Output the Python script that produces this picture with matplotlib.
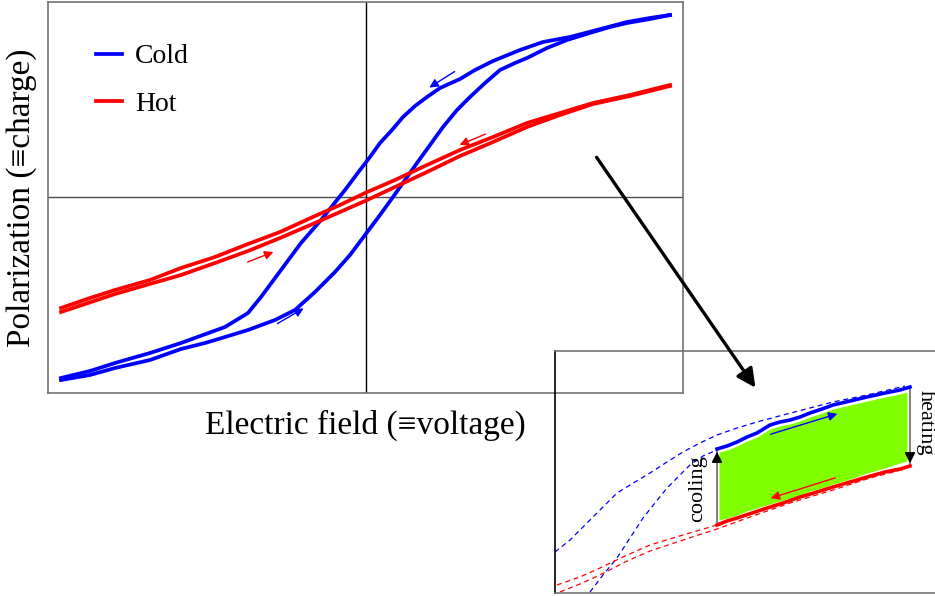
import matplotlib
matplotlib.use("Agg")
import matplotlib.pyplot as plt
from matplotlib.patches import FancyArrowPatch

plt.rcParams['font.family'] = ['Liberation Serif', 'DejaVu Serif']

# ---- main loop data (arbitrary units: field E, polarization P) ----
cold_up_E = [-305, -276, -251, -216, -185, -161, -141, -118, -91, -71, -51, -31, -16, -1, 14, 27,
             39, 51, 64, 77, 91, 104, 119, 134, 149, 161, 181, 201, 227, 244, 261, 284, 304]
cold_up_P = [-183, -178, -171, -163, -152, -146, -140, -133, -123, -113, -95, -75, -58, -38, -18, 0,
             17, 34, 52, 70, 87, 100, 114, 127, 134, 139, 149, 157, 165, 170, 174, 178, 182]
cold_down_E = [304, 284, 261, 227, 204, 177, 154, 127, 109, 94, 74, 61, 49, 37, 26, 14, 4, -6,
               -21, -33, -45, -65, -85, -105, -118, -141, -185, -216, -251, -276, -305]
cold_down_P = [182, 179, 175, 166, 160, 155, 147, 136, 127, 118, 109, 100, 91, 80, 67, 54, 40, 27,
               7, -8, -23, -46, -73, -100, -116, -130, -146, -156, -166, -174, -181]
hot_down_E = [304, 264, 227, 194, 161, 127, 94, 61, 29, -1, -26, -51, -86, -118, -151, -185, -216, -251, -276, -305]
hot_down_P = [112, 102, 94, 84, 74, 60, 47, 32, 17, 4, -8, -19, -35, -47, -60, -71, -83, -93, -101, -111]
hot_up_E = [-305, -251, -185, -151, -118, -86, -51, -26, -1, 29, 61, 94, 127, 161, 194, 227, 264, 304]
hot_up_P = [-115, -97, -78, -66, -54, -41, -26, -15, -4, 10, 25, 41, 55, 70, 82, 93, 101, 111]

# direction arrows (tail, head)
cold_arrows = [((91, 127), (61, 108)), ((-91, -128), (-60, -110))]
hot_arrows = [((122, 64), (91, 51)), ((-121, -66), (-90, -54))]

# ---- inset data (zoom of upper-right part) ----
in_cold_x = [162, 172, 182, 192, 202, 215, 225, 235, 245, 255, 267, 278, 295, 312, 330, 345, 355]
in_cold_y = [144, 147, 151, 156, 160, 168, 171, 173, 176, 180, 184, 188, 192, 196, 200, 203, 206]
in_hot_x = [162, 172, 182, 197, 212, 228, 245, 262, 278, 295, 312, 330, 345, 355]
in_hot_y = [68, 72, 75, 80, 85, 90, 96, 101, 106, 111, 116, 121, 124, 127]
green_x = [164, 172, 182, 192, 202, 215, 225, 235, 245, 255, 267, 278, 295, 312, 330, 345, 352]
green_top = [141, 143, 147, 152, 156, 164, 167, 169, 172, 176, 180, 184, 188, 192, 196, 199, 201]
green_bot = [73, 75, 78, 82, 85, 89, 92, 95, 98, 102, 105, 109, 114, 120, 125, 130, 132]
dash_cold_a_x = [0, 15, 28, 45, 62, 80, 95, 112, 128, 145, 162, 182, 202, 228, 255, 278, 312, 350]
dash_cold_a_y = [41, 53, 66, 83, 100, 111, 120, 131, 141, 150, 158, 165, 171, 178, 185, 191, 198, 207]
dash_cold_b_x = [35, 48, 62, 75, 88, 100, 112, 125, 135, 148, 162]
dash_cold_b_y = [1, 18, 35, 55, 75, 90, 105, 118, 128, 137, 143]
dash_hot_a_x = [2, 25, 45, 70, 95, 128, 162]
dash_hot_a_y = [8, 16, 25, 37, 48, 58, 68]
dash_hot_b_x = [5, 25, 45, 70, 95, 128, 162, 195, 235, 278, 315, 350]
dash_hot_b_y = [1, 9, 18, 31, 42, 53, 64, 76, 90, 103, 115, 124]
cooling_arrow = ((162, 68), (162, 144))
heating_arrow = ((355, 206), (355, 127))
in_cold_arrow = ((213, 158), (285, 180))
in_hot_arrow = ((283, 116), (213, 94))

W, H = 935, 596
fig = plt.figure(figsize=(W / 100, H / 100), dpi=100)

ax = fig.add_axes([48 / W, 1 - 393 / H, 635 / W, 391 / H])
ax.set_xlim(-318, 317)
ax.set_ylim(-196, 195)
ax.set_xticks([])
ax.set_yticks([])
for s in ax.spines.values():
    s.set_color('0.45')
    s.set_linewidth(1.2)
ax.axhline(0, color='0.3', lw=1.0, zorder=1)
ax.axvline(0, color='black', lw=1.0, zorder=1)

lw = 2.7
ax.plot(cold_up_E, cold_up_P, color='#0000ff', lw=lw, label='Cold', zorder=3)
ax.plot(cold_down_E, cold_down_P, color='#0000ff', lw=lw, zorder=3)
ax.plot(hot_up_E, hot_up_P, color='#ff0000', lw=lw, label='Hot', zorder=3)
ax.plot(hot_down_E, hot_down_P, color='#ff0000', lw=lw, zorder=3)
for (t, h) in cold_arrows:
    ax.annotate('', xy=h, xytext=t,
                arrowprops=dict(arrowstyle='-|>', color='#0000ff', lw=1.0, mutation_scale=13))
for (t, h) in hot_arrows:
    ax.annotate('', xy=h, xytext=t,
                arrowprops=dict(arrowstyle='-|>', color='#ff0000', lw=1.0, mutation_scale=13))

ax.set_xlabel('Electric field (≡voltage)', fontsize=24, labelpad=12)
ax.set_ylabel('Polarization (≡charge)', fontsize=24, labelpad=8)

ax.legend(loc='upper left', bbox_to_anchor=(96 / W, 1 - 44 / H), bbox_transform=fig.transFigure,
          frameon=False, fontsize=20, handlelength=0.95, handletextpad=0.45,
          labelspacing=0.8, borderpad=0, borderaxespad=0)

# ---- inset ----
ins = fig.add_axes([555 / W, 3 / H, 405 / W, 242 / H])
ins.patch.set_alpha(0)
ins.set_xlim(0, 405)
ins.set_ylim(0, 242)
ins.set_xticks([])
ins.set_yticks([])
ins.spines['right'].set_visible(False)
ins.spines['left'].set_color('black')
ins.spines['top'].set_color('0.45')
ins.spines['bottom'].set_color('0.45')
for s in ins.spines.values():
    s.set_linewidth(1.2)

ins.fill_between(green_x, green_bot, green_top, color='#7fff00', lw=0, zorder=1)
dash = dict(lw=0.9, dashes=(4, 3), zorder=2)
ins.plot(dash_cold_a_x, dash_cold_a_y, color='#0000ff', **dash)
ins.plot(dash_cold_b_x, dash_cold_b_y, color='#0000ff', **dash)
ins.plot(dash_hot_a_x, dash_hot_a_y, color='#ff0000', **dash)
ins.plot(dash_hot_b_x, dash_hot_b_y, color='#ff0000', **dash)
ins.plot(in_cold_x, in_cold_y, color='#0000ff', lw=2.6, zorder=3)
ins.plot(in_hot_x, in_hot_y, color='#ff0000', lw=2.6, zorder=3)

for (t, h) in (cooling_arrow, heating_arrow):
    ins.plot([t[0], h[0]], [t[1], h[1]], color='0.5', lw=1.4, zorder=2)
    ins.annotate('', xy=h, xytext=(h[0], h[1] + (t[1] - h[1]) * 0.2),
                 arrowprops=dict(arrowstyle='-|>', color='black', lw=1.0, mutation_scale=16),
                 zorder=4)
ins.annotate('', xy=in_cold_arrow[1], xytext=in_cold_arrow[0],
             arrowprops=dict(arrowstyle='-|>', color='#0000ff', lw=1.0, mutation_scale=13))
ins.annotate('', xy=in_hot_arrow[1], xytext=in_hot_arrow[0],
             arrowprops=dict(arrowstyle='-|>', color='#ff0000', lw=1.0, mutation_scale=13))
ins.text(143, 104, 'cooling', rotation=90, ha='center', va='center', fontsize=16)
ins.text(370, 170, 'heating', rotation=-90, ha='center', va='center', fontsize=16, clip_on=False)

# big pointer arrow from main plot to inset
big = FancyArrowPatch((595 / W, 1 - 155 / H), (757 / W, 1 - 390 / H), transform=fig.transFigure,
                      arrowstyle='-|>', mutation_scale=28, lw=2.4, color='black')
fig.add_artist(big)

fig.savefig('out.png', dpi=100)
